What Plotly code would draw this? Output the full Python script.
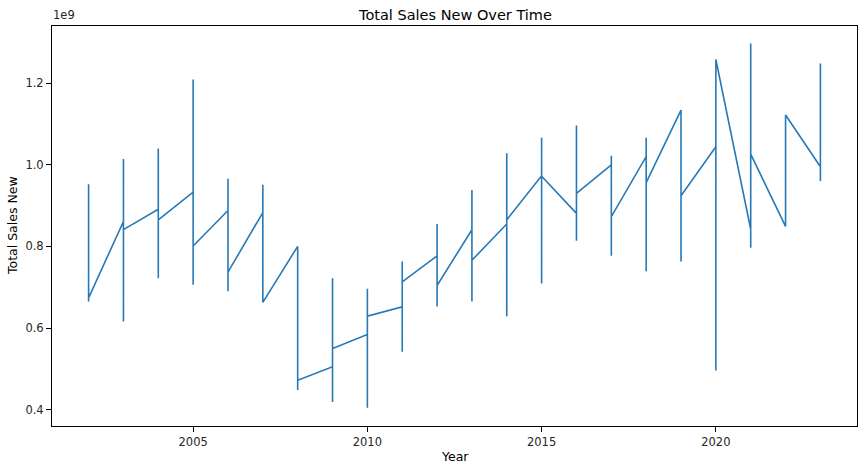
import plotly.graph_objects as go

# Per-year readings (values in units of sales): first point, highest, lowest, last point
years = list(range(2002, 2024))
first_vals = [0.952, 0.861, 0.891, 0.933, 0.888, 0.883, 0.800, 0.505, 0.584, 0.652, 0.777,
              0.841, 0.855, 0.973, 0.881, 1.000, 1.020, 1.134, 1.044, 0.842, 0.849, 0.995]
high_vals = [0.952, 1.014, 1.040, 1.209, 0.966, 0.951, 0.800, 0.722, 0.696, 0.763, 0.855,
             0.938, 1.028, 1.066, 1.096, 1.022, 1.066, 1.134, 1.258, 1.297, 1.122, 1.248]
low_vals = [0.665, 0.616, 0.722, 0.706, 0.690, 0.663, 0.448, 0.419, 0.405, 0.542, 0.653,
            0.665, 0.629, 0.709, 0.814, 0.777, 0.739, 0.763, 0.496, 0.797, 0.849, 0.960]
last_vals = [0.674, 0.841, 0.865, 0.801, 0.737, 0.663, 0.472, 0.550, 0.629, 0.713, 0.704,
             0.766, 0.865, 0.972, 0.930, 0.873, 0.956, 0.924, 1.258, 1.026, 1.122, 0.960]
scale = 1e9

ytick_vals = [0.4, 0.6, 0.8, 1.0, 1.2]
ytick_text = ["0.4", "0.6", "0.8", "1.0", "1.2"]
xtick_vals = [2005, 2010, 2015, 2020]

xs, ys = [], []
for yr, a, h, l, z in zip(years, first_vals, high_vals, low_vals, last_vals):
    for v in (a, h, l, z):
        xs.append(yr)
        ys.append(v * scale)

FONT = "DejaVu Sans, sans-serif"
TXT = "#262626"

fig = go.Figure(go.Scatter(x=xs, y=ys, mode="lines",
                           line=dict(color="#2679b8", width=1.6), showlegend=False))

axis_common = dict(showline=True, linecolor="black", linewidth=1, mirror=True,
                   ticks="outside", ticklen=5, tickcolor="black", tickwidth=1,
                   showgrid=False, zeroline=False, automargin=False,
                   tickfont=dict(size=11.5, color=TXT, family=FONT))

fig.update_layout(
    width=864, height=467,
    margin=dict(l=52, r=7, t=26, b=41),
    paper_bgcolor="white", plot_bgcolor="white",
    font=dict(family=FONT, color="black"),
    xaxis=dict(range=[2000.95, 2024.05], tickvals=xtick_vals, **axis_common),
    yaxis=dict(range=[0.36 * scale, 1.34 * scale],
               tickvals=[v * scale for v in ytick_vals], ticktext=ytick_text,
               **axis_common),
)
# Title
fig.add_annotation(text="Total Sales New Over Time", xref="paper", yref="paper",
                   x=0.5, y=1, xanchor="center", yanchor="middle", yshift=11,
                   showarrow=False, font=dict(size=14.5, family=FONT, color="black"))
# Axis titles
fig.add_annotation(text="Year", xref="paper", yref="paper", x=0.5, y=0,
                   xanchor="center", yanchor="middle", yshift=-30,
                   showarrow=False, font=dict(size=12.5, family=FONT, color="black"))
fig.add_annotation(text="Total Sales New", xref="paper", yref="paper", x=0, y=0.5,
                   xanchor="center", yanchor="middle", xshift=-40, textangle=-90,
                   showarrow=False, font=dict(size=12.5, family=FONT, color="black"))
# Offset text
fig.add_annotation(text="1e9", xref="paper", yref="paper", x=0, y=1, xanchor="left",
                   yanchor="bottom", xshift=-1, yshift=2, showarrow=False,
                   font=dict(size=11.5, family=FONT, color=TXT))

fig.write_html("out.html", config={"displayModeBar": False},
               post_script="document.body.style.margin='0';")
